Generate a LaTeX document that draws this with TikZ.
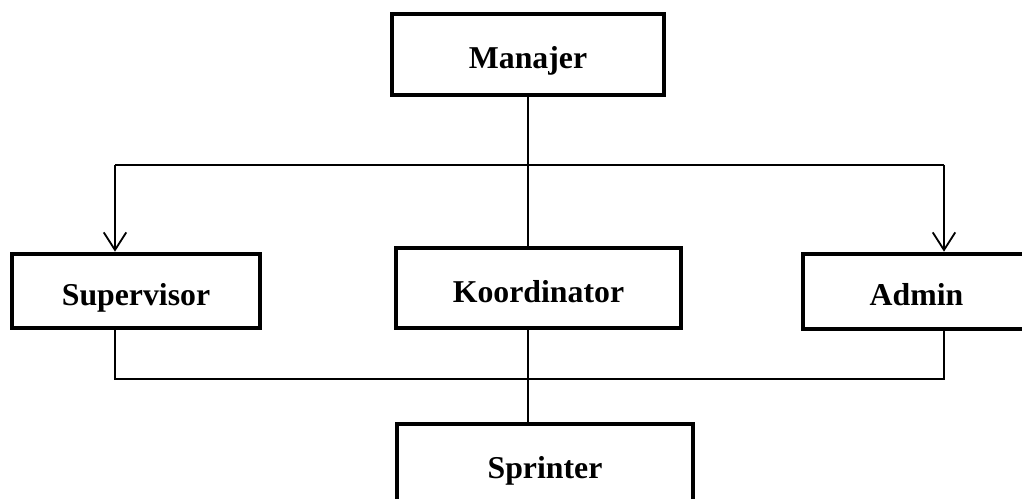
\documentclass[tikz,border=0pt]{standalone}
\usepackage{fontspec}
\setmainfont{Liberation Serif}
\usepackage{tikz}
\usetikzlibrary{arrows,arrows.meta}
\tikzset{>={Straight Barb[length=12.5pt,width=16pt]}}
\tikzstyle{jabatan}=[draw,line width=3.3pt,rectangle,inner sep=0pt,
  text height=22pt,text depth=2pt,
  font=\fontsize{22.6}{26}\selectfont\bfseries]
\tikzstyle{garis}=[line width=1.3pt]
\begin{document}
\begin{tikzpicture}[x=0.025cm,y=-0.025cm]
  \clip (0,0) rectangle (1022,499);
  \node[jabatan,minimum width=6.8cm,minimum height=2.025cm] (man) at (528,54.5) {Manajer};
  \node[jabatan,minimum width=6.2cm,minimum height=1.85cm] (sup) at (136,291) {Supervisor};
  \node[jabatan,minimum width=7.125cm,minimum height=2cm] (koor) at (538.5,288) {Koordinator};
  \node[jabatan,minimum width=5.675cm,minimum height=1.875cm] (adm) at (916.5,291.5) {Admin};
  \node[jabatan,minimum width=7.4cm,minimum height=2.025cm] (spr) at (545,464.5) {Sprinter};
  % titik belok
  \coordinate (atasL) at (115,165);
  \coordinate (atasR) at (944,165);
  \coordinate (bawahL) at (115,379);
  \coordinate (bawahR) at (944,379);
  \draw[garis] (man) -- (man |- koor.north);
  \draw[garis] (atasL) -- (atasR);
  \draw[garis,->] (atasL) -- (atasL |- sup.north);
  \draw[garis,->] (atasR) -- (atasR |- adm.north);
  \draw[garis] (bawahL |- sup.south) -- (bawahL) -- (bawahR) -- (bawahR |- adm.south);
  \draw[garis] (man |- koor.south) -- (man |- spr.north);
\end{tikzpicture}
\end{document}
